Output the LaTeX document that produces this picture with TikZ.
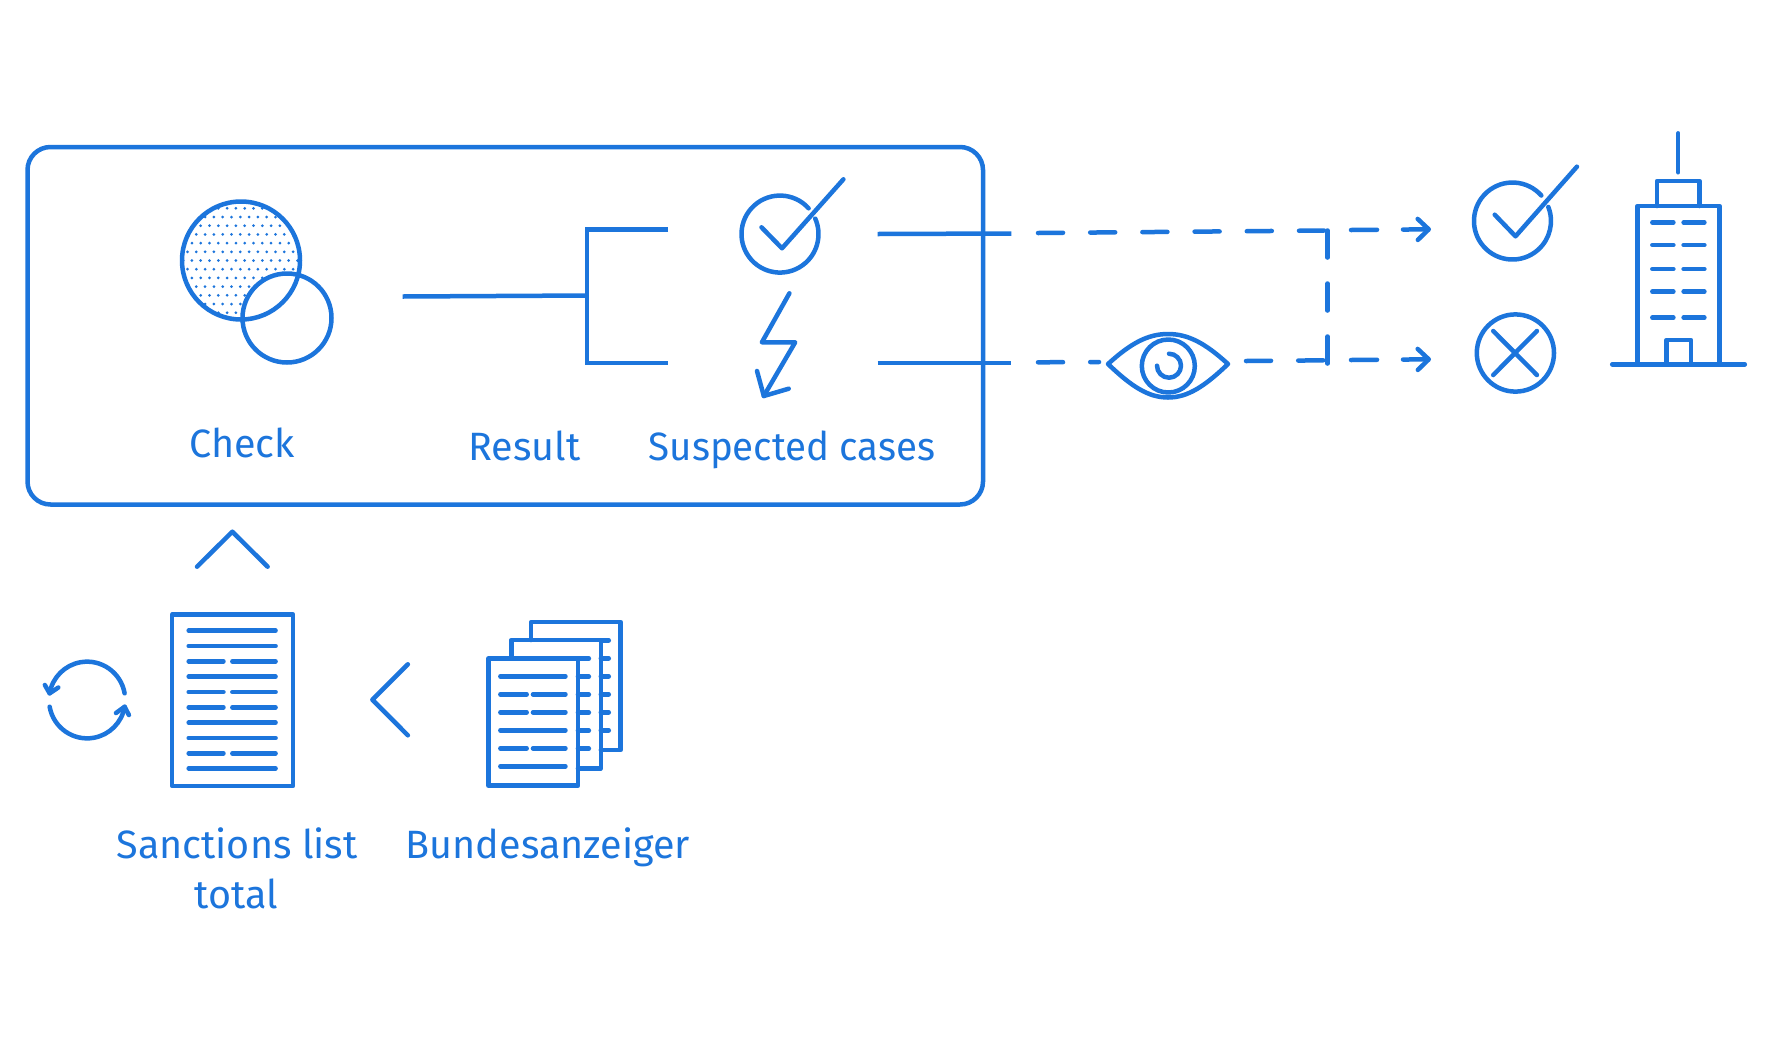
\documentclass[tikz,border=0pt]{standalone}
\usepackage{fontspec}
\setmainfont{Fira Sans}
\usetikzlibrary{arrows.meta}
\definecolor{brandblue}{HTML}{1C75DC}
\tikzset{
  icon/.style={draw=brandblue,line width=4.5pt,line cap=round,line join=round},
  solidline/.style={draw=brandblue,line width=4.5pt},
  dashline/.style={draw=brandblue,line width=4.5pt,line cap=round,dash pattern=on 25pt off 27.2pt},
  arrowline/.style={dashline,dash pattern=on 26pt off 26pt,-{Straight Barb[length=11pt,width=21pt,round]}},
  label/.style={text=brandblue,font=\fontsize{39.5}{46}\selectfont,anchor=base,inner sep=0pt,outer sep=0pt},
}
\begin{document}
\begin{tikzpicture}[x=1pt,y=-1pt]
\useasboundingbox (0,0) rectangle (1771,1042);
\fill[white] (0,0) rectangle (1771,1042);
% frame
\draw[icon,rounded corners=23pt] (27.5,147) rectangle (983,504.5);
% venn
\begin{scope}
  \clip (241,260.5) circle[radius=59];
  \foreach \i in {0,...,12}{
    \foreach \j in {-8,...,8}{
      \pgfmathsetmacro{\yy}{208.3+8.7*\i}
      \pgfmathsetmacro{\xx}{(mod(\i,2)==1?231.5:227.1)+8.8*\j}
      \fill[brandblue] (\xx,\yy) circle[radius=1.5];
    }
  }
\end{scope}
\fill[white] (287,318) circle[radius=45];
\draw[icon] (241,260.5) circle[radius=59];
\draw[icon] (287,318) circle[radius=44.5];
% texts
\node[label] (check) at (242,457.5) {Check};
\node[label] (result) at (524.5,460.5) {Result};
\node[label] (suspected) at (792,460.5) {\scalebox{.975}[1]{Suspected cases}};
\node[label] (sanctions) at (237,858) {Sanctions list};
\node[label] (total) at (236,908) {total};
\node[label] (bundes) at (548,858) {Bundesanzeiger};
% result bracket
\coordinate (resIn) at (402.6,296.5);
\coordinate (resJoin) at (587,295.5);
\coordinate (resTop) at (668,229.5);
\coordinate (resBot) at (668,363);
\draw[solidline] (resIn) -- (resJoin);
\draw[solidline] (resTop) -| (resJoin) |- (resBot);
% check in box
\draw[icon] (808.6,208.3) arc[start angle=-42,end angle=-383.6,radius=38.5];
\draw[icon] (761.5,227.3) -- (782,248.3) -- (843.4,179.3);
% lightning
\draw[icon] (789.4,293.3) -- (761.9,342.3) -- (795.2,342.3) -- (763.8,396);
\draw[icon] (757,371) -- (763.8,396) -- (788.7,388.7);
% outgoing
\coordinate (outA) at (877.5,234);
\coordinate (outAe) at (1011.4,233.5);
\coordinate (outB) at (877.5,363);
\coordinate (outBe) at (1011.4,363);
\draw[solidline] (outA) -- (outAe);
\draw[solidline] (outB) -- (outBe);
\coordinate (dA) at (1038,233);
\coordinate (corner) at (1327.5,230.5);
\coordinate (dB) at (1038,362.3);
\coordinate (dBe) at (1099,362);
\coordinate (dC) at (1246,361);
\coordinate (join) at (1327.5,360.3);
\coordinate (vEnd) at (1327.5,364);
\draw[dashline] (dA) -- (corner);
\draw[dashline,dash pattern=on 27pt off 26pt] (corner) -- (vEnd);
\draw[dashline] (dB) -- (dBe);
\draw[dashline] (dC) -- (join);
\coordinate (arA) at (1351,230);
\coordinate (arAe) at (1431,229.3);
\coordinate (arB) at (1351,360);
\coordinate (arBe) at (1431,359.3);
\draw[arrowline] (arA) -- (arAe);
\draw[arrowline] (arB) -- (arBe);
% eye
\draw[icon] (1108,364) .. controls (1131,343) and (1148,334) .. (1168,334) .. controls (1188,334) and (1205,343) .. (1228,364) .. controls (1205,386) and (1188,397.5) .. (1168,397.5) .. controls (1148,397.5) and (1131,386) .. cycle;
\draw[icon] (1168.3,366) circle[radius=26.5];
\draw[icon] (1169,353.7) arc[start angle=-90,end angle=180,radius=12];
% right check
\draw[icon] (1541.3,195.5) arc[start angle=-41.5,end angle=-381.5,radius=38.5];
\draw[icon] (1494.7,214.7) -- (1515.5,236.3) -- (1576.9,166.7);
% cross
\draw[icon] (1515.4,353) circle[radius=38.6];
\draw[icon] (1493.2,331) -- (1536.9,375);
\draw[icon] (1536.9,331) -- (1493.2,375);
% building
\draw[icon] (1612.2,364.3) -- (1744.8,364.3);
\draw[icon] (1637.7,364.3) -- (1637.7,206) -- (1719.3,206) -- (1719.3,364.3);
\draw[icon] (1657,206) -- (1657,181) -- (1699.3,181) -- (1699.3,206);
\draw[icon] (1678.2,133.3) -- (1678.2,172.3);
\foreach \y in {222.3,245,269,291.7,317.7}{
  \draw[icon] (1652.3,\y) -- (1673.4,\y);
  \draw[icon] (1683.6,\y) -- (1704.4,\y);
}
\draw[icon] (1666.5,364.3) -- (1666.5,340) -- (1690.9,340) -- (1690.9,364.3);
\begin{scope}[xshift=.11pt,xscale=.9945]
% chevrons
\draw[icon] (198,566.7) -- (233.5,531.7) -- (269,566.7);
\draw[icon] (410,664.3) -- (374.3,699.7) -- (410,735.3);
% sanctions document
\draw[icon] (173,614.5) rectangle (294.5,786);
\foreach \y in {630.7,646,676.7,722.7,738,768.3}{
  \draw[icon] (189.6,\y) -- (277,\y);
}
\foreach \y in {661.3,692,707.3,753.3}{
  \draw[icon] (189.6,\y) -- (224.6,\y);
  \draw[icon] (233.5,\y) -- (277,\y);
}
% cycle
\draw[icon] (125.2,693.3) arc[start angle=-10,end angle=-170,radius=38.3];
\draw[icon] (45,685) -- (49.8,693.3) -- (58.5,687.5);
\draw[icon] (49.8,706.7) arc[start angle=170,end angle=10,radius=38.3];
\draw[icon] (116.5,713) -- (125.2,706.7) -- (129.5,715);
% stacked docs
\draw[icon] (534,640) -- (534,622) -- (624,622) -- (624,750) -- (604,750);
\draw[icon] (514,658.5) -- (514,640) -- (604,640) -- (604,768.3) -- (581,768.3);
\draw[icon] (491,658.5) rectangle (581,785.7);
\foreach \y in {676.3,730.3,766.3}{
  \draw[icon] (503,\y) -- (568.5,\y);
}
\foreach \y in {694.3,712.3,748.3}{
  \draw[icon] (503,\y) -- (529.5,\y);
  \draw[icon] (535.8,\y) -- (568.5,\y);
}
\foreach \y in {658.3,676.7,694.7,712.7,730.7,748.7}{
  \draw[icon] (581,\y) -- (592,\y);
}
\foreach \y in {640.3,658.3,676.3,694.3,712.3,730.3}{
  \draw[icon] (604,\y) -- (612,\y);
}
\end{scope}
\end{tikzpicture}
\end{document}
